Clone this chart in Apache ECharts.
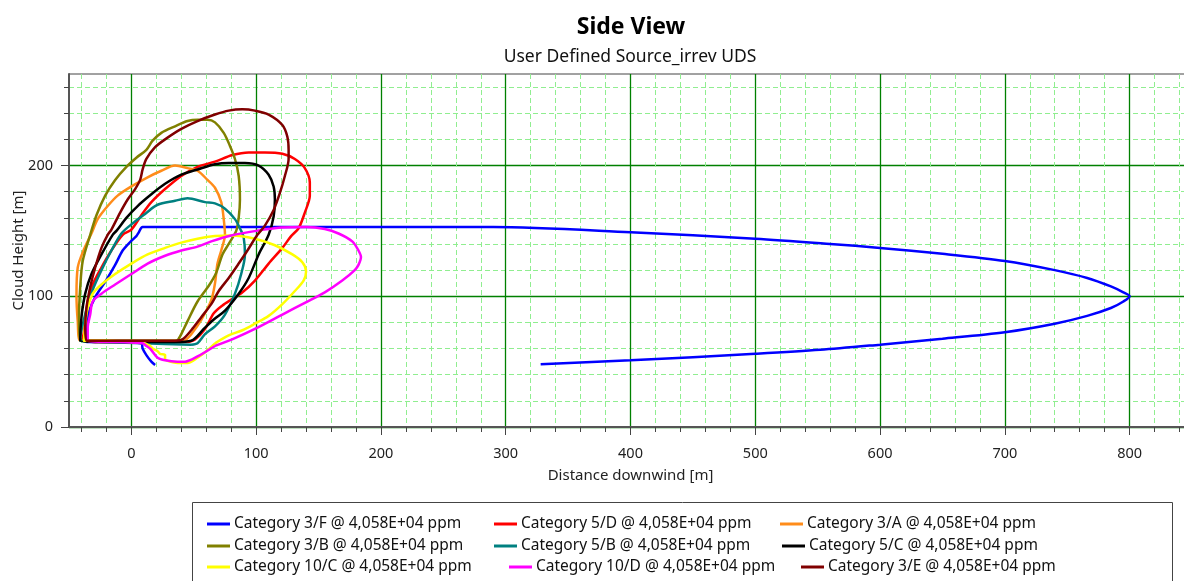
<!DOCTYPE html>
<html>
<head>
<meta charset="utf-8">
<script src="https://cdn.jsdelivr.net/npm/echarts@6/dist/echarts.min.js"></script>
<style>
  html, body { margin: 0; padding: 0; background: #fff; }
  #chart { width: 1184px; height: 581px; }
</style>
</head>
<body>
<div id="chart"></div>
<script>
// axis ticks
const xMajor = [0, 100, 200, 300, 400, 500, 600, 700, 800]
const yMajor = [0, 100, 200]
const xMinor = []
for (let v = -40; v <= 840; v += 20) xMinor.push(v)
const yMinor = []
for (let v = 0; v <= 260; v += 20) yMinor.push(v)

const seriesNames = [
  'Category 3/F @ 4,058E+04 ppm',
  'Category 5/D @ 4,058E+04 ppm',
  'Category 3/A @ 4,058E+04 ppm',
  'Category 3/B @ 4,058E+04 ppm',
  'Category 5/B @ 4,058E+04 ppm',
  'Category 5/C @ 4,058E+04 ppm',
  'Category 10/C @ 4,058E+04 ppm',
  'Category 10/D @ 4,058E+04 ppm',
  'Category 3/E @ 4,058E+04 ppm'
]

// [distance downwind, cloud height]
const cat3F = [[19,47.5],[16,50],[12,55],[9,60],[8,64],[-10,65],[-36,65],[-36,75],[-34,88],[-28,101],[-21,111],
  [-13,124],[-7,135],[-1,141.5],[4,146],[6,149],[9,153],[100,153],[200,153],[290,153],[400,149],[500,144],
  [560,140],[600,137],[650,132.5],[700,127],[740,120],[766,114],[785,107.5],[795,103],[800,100],[795,96],
  [785,91],[766,85],[740,79],[700,72.5],[650,67.5],[600,63],[552,59],[500,56],[400,51],[328,48]]
const cat5D = [[45,65],[10,65],[-20,65],[-39,66],[-37,81],[-35,96],[-31,109],[-24,122],[-16,135],[-7,147],
  [0,151],[8,162],[16,172],[27,182],[40,192],[53,199],[67,203],[81,208],[94,210],[107,210],[121,209],[131,205],
  [139,198],[143,187],[143,177],[139,164],[134,152],[128,146],[121,137],[110,125],[99,112],[89,103],[81,98],
  [73,93],[66,87],[59,75],[51,67],[45,65]]
const cat3A = [[43,66],[10,66],[-20,66],[-41,66],[-43,81],[-44,101],[-43,122],[-38,136],[-32,148],[-27,159],
  [-19,169],[-11,177],[0,184],[13,191],[24,196],[35,200],[45,198],[53,196],[61,189],[67,183],[72,172],[74,159],
  [75,147],[72,135],[69,125],[67,110],[64,97],[56,82],[48,71],[43,66]]
const cat3B = [[37,66],[10,66],[-20,66],[-41,66],[-42,84],[-41,107],[-39,127],[-33,147],[-28,162],[-21,177],
  [-13,189],[-4,199],[4,206],[12,212],[17,219],[24,225],[35,230],[45,234],[53,235],[61,235],[67,233],[74,225],
  [79,215],[83,205],[86,192],[87,174],[86,160],[84,150],[78,140],[73,132],[68,118],[62,108],[53,96],[45,81],
  [40,71],[37,66]]
const cat5B = [[48,63],[10,64],[-20,65],[-41,66],[-41,68],[-39,78],[-36,90],[-31,105],[-24,120],[-16,135],
  [-8,148],[0,155],[11,163],[21,170],[35,173],[45,175],[59,172],[67,171],[75,167],[83,159],[88,150],[90,145],
  [91,132],[88,117],[83,102],[75,86],[67,77],[59,71],[53,64],[48,63]]
const cat5C = [[35,65],[10,65],[-20,65],[-41,66],[-40,84],[-37,102],[-32,117],[-24,132],[-15,147],[-12,150],
  [-4,160],[5,169],[16,178],[27,186],[40,193],[53,197],[67,201],[78,202],[91,202],[102,200],[110,193],[114,184],
  [115,174],[114,161],[110,147],[102,132],[94,114],[86,102],[75,89],[67,83],[59,76],[48,66],[35,65]]
const cat10C = [[67,64],[60,58],[53,53],[45,49],[37,49],[27,52],[27,55],[23,56],[21,58],[17,60],[15,62],[7,65],
  [-1,65],[-20,66],[-38,66],[-37,79],[-35,91],[-31,102],[-24,109],[-13,117],[0,125],[13,132],[27,137],[40,141],
  [53,144],[67,146],[80,146.5],[99,144],[115,139],[129,132],[137,126],[140,119],[138,112],[131,104],[121,94],
  [110,85],[99,79],[89,74],[78,70],[67,64]]
const cat10D = [[67,62],[53,54],[43,50],[37,50],[27,51],[21,53],[15,60],[12,62],[9,64],[-10,65],[-35,66],
  [-35,76],[-33,86],[-31,96],[-24,102],[-13,109],[0,117],[13,125],[27,131],[40,135],[53,138],[64,142],[80,146.5],
  [100,150],[120,152.5],[140,153],[155,151.5],[166,148],[177,142],[182,135],[184,130],[182,124],[179,120],
  [169,112],[155,103],[139,95],[121,86],[99,75],[83,68],[67,62]]
const cat3E = [[35,66],[10,66],[-20,66],[-36,66],[-37,76],[-36,91],[-33,107],[-29,122],[-24,137],[-19,147],
  [-16,151],[-9,164],[-3,174],[3,182],[7,189],[9,197],[12,205],[19,214],[27,220],[40,228],[53,234],[67,239],
  [78,242],[89,243],[99,242],[110,239],[121,231],[125,222],[126,212],[126,205],[123,192],[119,179],[114,166],
  [107,154],[101,147],[93,135],[86,125],[78,114],[70,104],[64,94],[56,84],[48,74],[41,67],[35,66]]

const seriesData = [cat3F, cat5D, cat3A, cat3B, cat5B, cat5C, cat10C, cat10D, cat3E]
const seriesColors = ['#0000ff', '#ff0000', '#ff8c1a', '#808000', '#008080', '#000000', '#ffff00', '#ff00ff', '#800000']

// legend slots: [icon left, row center]
const legendSlots = [[207, 523], [494, 523], [780, 523],
                     [207, 545], [494, 545], [782, 545],
                     [207, 566], [509, 566], [801, 566]]

const fontFam = "'Noto Sans', 'Open Sans', sans-serif"
const chart = echarts.init(document.getElementById('chart'))

const xBase = {type: 'value', min: -50, max: 850, gridIndex: 0, position: 'bottom'}
const yBase = {type: 'value', min: 0, max: 270, gridIndex: 0, position: 'left'}

chart.setOption({
  animation: false,
  backgroundColor: '#fff',
  title: [
    {text: 'Side View', left: 626, top: 11, textAlign: 'center',
      textStyle: {fontSize: 23, fontWeight: 'bold', color: '#000', fontFamily: fontFam}},
    {text: 'User Defined Source_irrev UDS', left: 625, top: 43, textAlign: 'center',
      textStyle: {fontSize: 17.5, fontWeight: 'normal', color: '#111', fontFamily: fontFam}}
  ],
  grid: {left: 69, top: 74, right: -8, bottom: 154, show: true, borderColor: '#444', borderWidth: 1,
    containLabel: false, outerBoundsMode: 'none'},
  xAxis: [
    Object.assign({}, xBase, {
      name: 'Distance downwind [m]', nameLocation: 'middle', nameGap: 41, nameMoveOverlap: false,
      nameTextStyle: {fontSize: 15, color: '#222', fontFamily: fontFam},
      axisLine: {show: true, onZero: false, lineStyle: {color: '#555', width: 2}},
      axisTick: {show: true, customValues: xMinor, length: 5, lineStyle: {color: '#444'}},
      axisLabel: {customValues: xMajor, margin: 19, fontSize: 14.5, color: '#222', fontFamily: fontFam},
      splitLine: {show: false}
    }),
    Object.assign({}, xBase, {
      axisLine: {show: false, onZero: false}, axisLabel: {show: false},
      axisTick: {show: false, customValues: xMinor},
      splitLine: {show: true, lineStyle: {color: '#90ee90', type: [5, 3], width: 1}}
    }),
    Object.assign({}, xBase, {
      axisLine: {show: false, onZero: false}, axisLabel: {show: false},
      axisTick: {show: true, customValues: xMajor, length: 8, lineStyle: {color: '#444'}},
      splitLine: {show: true, lineStyle: {color: '#008000', width: 1.3}}
    })
  ],
  yAxis: [
    Object.assign({}, yBase, {
      name: 'Cloud Height [m]', nameLocation: 'middle', nameGap: 43, nameRotate: 90, nameMoveOverlap: false,
      nameTextStyle: {fontSize: 15, color: '#222', fontFamily: fontFam},
      axisLine: {show: true, onZero: false, lineStyle: {color: '#555', width: 2}},
      axisTick: {show: true, customValues: yMinor, length: 5, lineStyle: {color: '#444'}},
      axisLabel: {customValues: yMajor, margin: 16, fontSize: 14.5, color: '#222', fontFamily: fontFam},
      splitLine: {show: false}
    }),
    Object.assign({}, yBase, {
      axisLine: {show: false, onZero: false}, axisLabel: {show: false},
      axisTick: {show: false, customValues: yMinor},
      splitLine: {show: true, lineStyle: {color: '#90ee90', type: [5, 3], width: 1}}
    }),
    Object.assign({}, yBase, {
      axisLine: {show: false, onZero: false}, axisLabel: {show: false},
      axisTick: {show: true, customValues: yMajor, length: 8, lineStyle: {color: '#444'}},
      splitLine: {show: true, lineStyle: {color: '#008000', width: 1.3}}
    })
  ],
  legend: seriesNames.map((name, i) => ({
    data: [name],
    left: legendSlots[i][0],
    top: legendSlots[i][1] - 7,
    padding: 0,
    icon: 'rect',
    itemWidth: 23,
    itemHeight: 3,
    selectedMode: false,
    textStyle: {fontSize: 15.5, color: '#111', fontFamily: fontFam, padding: [0, 0, 0, -1]}
  })),
  graphic: [{
    type: 'rect',
    shape: {x: 192.5, y: 502.5, width: 980, height: 100},
    style: {fill: 'none', stroke: '#444', lineWidth: 1},
    silent: true
  }],
  series: seriesNames.map((name, i) => ({
    name: name,
    type: 'line',
    data: seriesData[i],
    color: seriesColors[i],
    showSymbol: false,
    smooth: 0.3,
    lineStyle: {width: 2.5, color: seriesColors[i]},
    emphasis: {disabled: true}
  }))
})
</script>
</body>
</html>
